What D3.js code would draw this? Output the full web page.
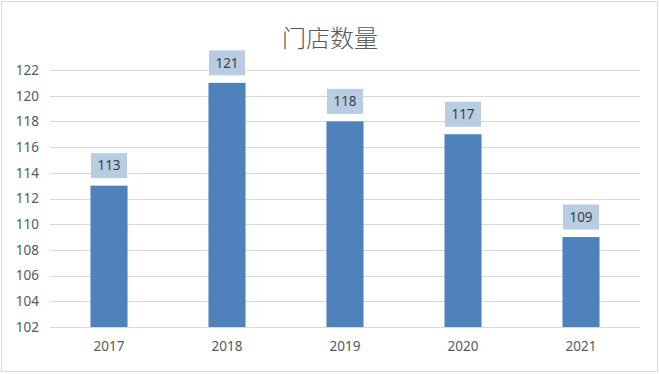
<!DOCTYPE html>
<html>
<head>
<meta charset="utf-8">
<script src="https://cdn.jsdelivr.net/npm/d3@7"></script>
<style>
  body { margin: 0; background: #fff; }
</style>
</head>
<body>
<svg id="chart" width="660" height="374"></svg>
<script>
// Chart values
const years = ["2017", "2018", "2019", "2020", "2021"];
const storeCounts = [113, 121, 118, 117, 109];
const yTicks = [102, 104, 106, 108, 110, 112, 114, 116, 118, 120, 122];
const titleText = "门店数量";

const svg = d3.select("#chart");
const width = 660;
const height = 374;
const margin = { top: 70, right: 20, bottom: 47, left: 50 };
const font = "'Noto Sans', 'Noto Sans CJK SC', sans-serif";

// Outer frame
svg.append("rect")
  .attr("x", 1.5).attr("y", 1.5)
  .attr("width", width - 4).attr("height", height - 4)
  .attr("fill", "#fff")
  .attr("stroke", "#d9d9d9");

const x = d3.scaleBand()
  .domain(years)
  .range([margin.left, width - margin.right])
  .paddingInner(0.686)
  .paddingOuter(0.343);

const y = d3.scaleLinear()
  .domain([102, 122])
  .range([height - margin.bottom, margin.top]);

// Gridlines
svg.append("g")
  .selectAll("line")
  .data(yTicks)
  .join("line")
  .attr("x1", margin.left)
  .attr("x2", width - margin.right)
  .attr("y1", d => Math.round(y(d)) + 0.5)
  .attr("y2", d => Math.round(y(d)) + 0.5)
  .attr("stroke", "#d9d9d9")
  .attr("stroke-width", 1);

// Y axis labels
const yAxis = svg.append("g")
  .attr("transform", `translate(${margin.left},0)`)
  .call(d3.axisLeft(y).tickValues(yTicks).tickSize(0).tickPadding(11));
yAxis.select(".domain").remove();
yAxis.selectAll("text")
  .attr("fill", "#595959")
  .style("font-family", font)
  .style("font-size", "13.5px");

// X axis labels
const xAxis = svg.append("g")
  .attr("transform", `translate(0,${height - margin.bottom})`)
  .call(d3.axisBottom(x).tickSize(0).tickPadding(14));
xAxis.select(".domain").remove();
xAxis.selectAll("text")
  .attr("fill", "#595959")
  .style("font-family", font)
  .style("font-size", "13.5px");

// Bars
svg.append("g")
  .selectAll("rect")
  .data(storeCounts)
  .join("rect")
  .attr("x", (d, i) => x(years[i]))
  .attr("y", d => y(d))
  .attr("width", x.bandwidth())
  .attr("height", d => y(102) - y(d))
  .attr("fill", "#4f81bd");

// Data labels with light boxes
const labels = svg.append("g")
  .selectAll("g")
  .data(storeCounts)
  .join("g")
  .attr("transform", (d, i) => `translate(${x(years[i]) + x.bandwidth() / 2},${y(d) - 20})`);

labels.append("rect")
  .attr("x", -18)
  .attr("y", -12.5)
  .attr("width", 36)
  .attr("height", 25)
  .attr("fill", "#b8cce4");

labels.append("text")
  .attr("text-anchor", "middle")
  .attr("dy", "0.35em")
  .attr("fill", "#404040")
  .style("font-family", font)
  .style("font-size", "13.5px")
  .text(d => d);

// Title
svg.append("text")
  .attr("x", width / 2)
  .attr("y", 40)
  .attr("text-anchor", "middle")
  .attr("dominant-baseline", "middle")
  .attr("fill", "#595959")
  .style("font-family", "'Noto Sans CJK SC', sans-serif")
  .style("font-weight", 300)
  .style("font-size", "24px")
  .text(titleText);
</script>
</body>
</html>
